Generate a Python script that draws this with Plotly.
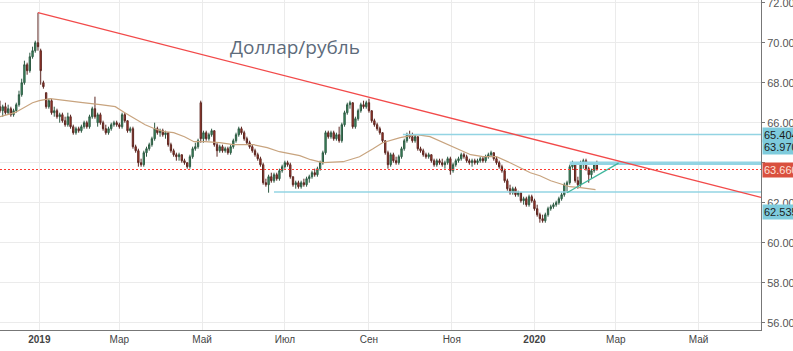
import pandas as pd
import plotly.graph_objects as go

# ---------------- data ----------------
opens = [66.8, 66.6, 66.8, 66.5, 66.7, 66.4, 66.6, 66.9, 67.4, 68.0,
         68.9, 68.6, 69.3, 69.6, 70.0, 69.6, 68.0, 67.5, 66.8, 67.1,
         66.5, 66.6, 66.3, 66.4, 66.1, 65.9, 66.3, 65.8, 65.5, 65.7,
         65.6, 65.8, 66.0, 65.8, 66.3, 66.7, 66.0, 66.4, 66.0, 65.7,
         65.5, 65.7, 65.9, 66.0, 65.9, 65.8, 66.4, 66.1, 65.6, 65.7,
         64.8, 64.6, 64.0, 63.9, 64.5, 64.7, 64.9, 65.2, 65.7, 65.5,
         65.6, 65.4, 65.5, 64.9, 64.6, 64.4, 64.3, 64.4, 64.1, 64.0,
         63.8, 64.3, 64.7, 64.8, 67.0, 65.2, 65.5, 65.2, 65.4, 65.6,
         64.9, 64.6, 64.8, 64.6, 64.7, 64.5, 64.8, 65.1, 65.4, 65.7,
         65.5, 65.2, 65.0, 64.8, 64.6, 64.4, 64.2, 63.9, 63.0, 62.9,
         63.3, 63.1, 63.4, 63.2, 63.6, 63.8, 64.0, 63.9, 63.3, 62.9,
         63.0, 62.8, 63.0, 62.9, 63.2, 63.3, 63.5, 63.4, 63.7, 64.0,
         64.5, 65.5, 65.3, 65.5, 65.2, 65.4, 65.1, 65.9, 66.5, 66.9,
         67.0, 65.8, 66.2, 66.6, 66.9, 66.8, 67.0, 66.6, 66.1, 65.9,
         65.7, 65.5, 65.1, 64.5, 63.9, 64.4, 64.1, 64.0, 64.3, 64.7,
         65.1, 65.4, 65.3, 65.1, 65.3, 64.7, 64.6, 64.4, 64.3, 64.4,
         64.1, 63.9, 64.1, 64.0, 63.9, 64.0, 64.2, 63.6, 63.9, 64.1,
         64.2, 64.4, 64.3, 64.1, 64.0, 64.1, 64.0, 64.1, 64.2, 64.1,
         64.3, 64.4, 64.5, 64.2, 64.0, 63.8, 63.6, 63.1, 62.7, 62.5,
         62.7, 62.4, 62.5, 62.1, 62.2, 61.9, 62.3, 62.1, 61.7, 61.4,
         61.2, 61.1, 61.4, 61.7, 61.8, 61.9, 62.0, 62.2, 62.4, 62.9,
         63.0, 63.8, 64.0, 63.1, 62.9, 64.0, 64.1, 63.7, 63.4, 63.6,
         63.9]
highs = [67.1, 66.9, 67.0, 66.9, 66.8, 66.7, 67.0, 67.6, 68.2, 69.1,
         69.0, 69.5, 69.8, 70.1, 71.5, 69.7, 68.1, 67.5, 67.2, 67.2,
         66.8, 66.7, 66.5, 66.5, 66.3, 66.5, 66.4, 65.9, 65.8, 65.8,
         65.9, 66.1, 66.1, 66.4, 66.8, 67.3, 66.5, 66.5, 66.1, 65.9,
         65.8, 66.0, 66.1, 66.1, 66.0, 66.5, 66.5, 66.1, 65.8, 65.8,
         64.9, 64.7, 64.2, 64.6, 64.8, 65.0, 65.3, 66.0, 65.8, 65.7,
         65.7, 65.6, 65.5, 65.0, 64.7, 64.5, 64.5, 64.4, 64.2, 64.0,
         64.4, 64.8, 65.0, 65.2, 67.1, 65.6, 65.6, 65.5, 65.7, 65.6,
         65.0, 64.9, 64.9, 64.8, 64.8, 64.9, 65.2, 65.5, 65.8, 65.8,
         65.6, 65.3, 65.1, 64.9, 64.7, 64.5, 64.3, 64.0, 63.2, 63.4,
         63.5, 63.5, 63.5, 63.7, 63.9, 64.1, 64.1, 64.0, 63.3, 63.1,
         63.1, 63.1, 63.2, 63.3, 63.4, 63.6, 63.7, 63.8, 64.1, 64.6,
         65.6, 65.6, 65.6, 65.6, 65.5, 65.8, 66.0, 66.6, 67.0, 67.1,
         67.0, 66.3, 66.7, 67.0, 67.1, 67.1, 67.2, 66.6, 66.2, 66.0,
         65.8, 65.5, 65.1, 64.6, 64.5, 64.5, 64.3, 64.4, 64.8, 65.2,
         65.5, 65.6, 65.5, 65.4, 65.3, 64.8, 64.7, 64.5, 64.5, 64.4,
         64.2, 64.2, 64.2, 64.2, 64.1, 64.3, 64.3, 64.0, 64.2, 64.3,
         64.5, 64.5, 64.4, 64.2, 64.2, 64.2, 64.2, 64.3, 64.3, 64.4,
         64.5, 64.6, 64.5, 64.3, 64.1, 63.9, 63.7, 63.2, 62.9, 62.8,
         62.8, 62.6, 62.5, 62.3, 62.3, 62.4, 62.4, 62.2, 61.9, 61.5,
         61.4, 61.5, 61.8, 61.9, 62.0, 62.1, 62.3, 62.5, 63.0, 63.1,
         63.9, 64.1, 64.0, 63.3, 64.1, 64.2, 64.2, 63.8, 63.7, 64.0,
         64.1]
lows = [66.5, 66.3, 66.4, 66.4, 66.3, 66.3, 66.5, 66.8, 67.3, 67.9,
        68.4, 68.5, 69.2, 69.5, 69.6, 67.9, 67.7, 66.7, 66.7, 66.4,
        66.3, 66.2, 66.0, 66.0, 65.8, 65.8, 65.7, 65.4, 65.4, 65.5,
        65.5, 65.7, 65.7, 65.7, 66.2, 66.2, 65.8, 65.9, 65.6, 65.4,
        65.4, 65.6, 65.8, 65.8, 65.7, 65.7, 66.0, 65.5, 65.5, 64.7,
        64.5, 63.8, 63.8, 63.8, 64.3, 64.6, 64.8, 65.1, 65.4, 65.3,
        65.3, 65.2, 64.8, 64.5, 64.3, 64.1, 64.1, 64.0, 63.9, 63.7,
        63.7, 64.2, 64.6, 64.7, 65.0, 65.0, 65.1, 65.1, 65.3, 64.8,
        64.3, 64.5, 64.5, 64.5, 64.4, 64.4, 64.7, 65.0, 65.3, 65.4,
        65.1, 64.9, 64.7, 64.5, 64.3, 64.1, 63.8, 62.9, 62.8, 62.5,
        63.0, 63.0, 63.1, 63.1, 63.5, 63.7, 63.8, 63.2, 62.8, 62.7,
        62.7, 62.7, 62.8, 62.8, 63.0, 63.2, 63.3, 63.3, 63.6, 63.9,
        64.4, 65.2, 65.2, 65.1, 65.1, 65.0, 65.0, 65.8, 66.4, 66.7,
        65.7, 65.7, 66.1, 66.5, 66.7, 66.7, 66.5, 66.0, 65.8, 65.6,
        65.4, 65.0, 64.4, 63.7, 63.8, 64.0, 63.9, 63.9, 64.2, 64.6,
        65.0, 65.2, 65.0, 65.0, 64.6, 64.5, 64.3, 64.2, 64.2, 64.0,
        63.8, 63.8, 63.9, 63.8, 63.7, 63.9, 63.4, 63.5, 63.8, 64.0,
        64.1, 64.2, 64.0, 63.9, 63.8, 63.9, 63.9, 64.0, 64.0, 64.0,
        64.2, 64.3, 64.1, 63.9, 63.7, 63.5, 63.0, 62.6, 62.4, 62.4,
        62.3, 62.3, 62.0, 61.9, 61.8, 61.8, 62.0, 61.6, 61.3, 61.0,
        61.0, 61.0, 61.3, 61.6, 61.7, 61.8, 61.9, 62.1, 62.3, 62.5,
        62.9, 63.7, 63.0, 62.7, 62.8, 63.7, 63.6, 63.0, 63.2, 63.5,
        63.6]
closes = [66.6, 66.8, 66.5, 66.7, 66.4, 66.6, 66.9, 67.4, 68.0, 68.9,
          68.6, 69.3, 69.6, 70.0, 69.8, 68.6, 67.8, 66.8, 67.1, 66.5,
          66.6, 66.3, 66.4, 66.1, 65.9, 66.3, 65.8, 65.5, 65.7, 65.6,
          65.8, 66.0, 65.8, 66.3, 66.7, 66.3, 66.4, 66.0, 65.7, 65.5,
          65.7, 65.9, 66.0, 65.9, 65.8, 66.4, 66.1, 65.6, 65.7, 64.8,
          64.6, 64.0, 63.9, 64.5, 64.7, 64.9, 65.2, 65.7, 65.5, 65.6,
          65.4, 65.5, 64.9, 64.6, 64.4, 64.3, 64.4, 64.1, 64.0, 63.8,
          64.3, 64.7, 64.8, 65.1, 65.2, 65.5, 65.2, 65.4, 65.6, 64.9,
          64.6, 64.8, 64.6, 64.7, 64.5, 64.8, 65.1, 65.4, 65.7, 65.5,
          65.2, 65.0, 64.8, 64.6, 64.4, 64.2, 63.9, 63.0, 62.9, 63.3,
          63.1, 63.4, 63.2, 63.6, 63.8, 64.0, 63.9, 63.3, 62.9, 63.0,
          62.8, 63.0, 62.9, 63.2, 63.3, 63.5, 63.4, 63.7, 64.0, 64.5,
          65.5, 65.3, 65.5, 65.2, 65.4, 65.1, 65.9, 66.5, 66.9, 67.0,
          65.8, 66.2, 66.6, 66.9, 66.8, 67.0, 66.6, 66.1, 65.9, 65.7,
          65.5, 65.1, 64.5, 63.9, 64.4, 64.1, 64.0, 64.3, 64.7, 65.1,
          65.4, 65.3, 65.1, 65.3, 64.7, 64.6, 64.4, 64.3, 64.4, 64.1,
          63.9, 64.1, 64.0, 63.9, 64.0, 64.2, 63.6, 63.9, 64.1, 64.2,
          64.4, 64.3, 64.1, 64.0, 64.1, 64.0, 64.1, 64.2, 64.1, 64.3,
          64.4, 64.5, 64.2, 64.0, 63.8, 63.6, 63.1, 62.7, 62.5, 62.7,
          62.4, 62.5, 62.1, 62.2, 61.9, 62.3, 62.1, 61.7, 61.4, 61.2,
          61.1, 61.4, 61.7, 61.8, 61.9, 62.0, 62.2, 62.4, 62.9, 63.0,
          63.8, 64.0, 63.1, 62.9, 64.0, 64.1, 63.7, 63.4, 63.6, 63.9,
          63.66]
first_date = "2018-12-03"
candle_step = "2D"

ma_dates = ["2018-12-03", "2018-12-14", "2018-12-27", "2019-01-01", "2019-01-09",
            "2019-01-16", "2019-01-24", "2019-02-02", "2019-02-15", "2019-02-26",
            "2019-03-05", "2019-03-13", "2019-03-20", "2019-03-27", "2019-04-03",
            "2019-04-10", "2019-04-18", "2019-04-25", "2019-05-03", "2019-05-14",
            "2019-05-24", "2019-06-08", "2019-06-18", "2019-06-27", "2019-07-12",
            "2019-07-20", "2019-07-29", "2019-08-13", "2019-08-25", "2019-09-04",
            "2019-09-11", "2019-09-24", "2019-10-06", "2019-10-16", "2019-10-26",
            "2019-11-05", "2019-11-15", "2019-11-24", "2019-12-04", "2019-12-14",
            "2019-12-21", "2019-12-29", "2020-01-05", "2020-01-13", "2020-01-20",
            "2020-01-27", "2020-02-04", "2020-02-15"]
ma_values = [66.3, 66.5, 67.0, 67.1, 67.2,
             67.15, 67.1, 67.0, 66.9, 66.8,
             66.5, 66.2, 65.9, 65.7, 65.55,
             65.5, 65.3, 65.05, 65.05, 65.0,
             64.9, 64.9, 64.75, 64.55, 64.35,
             64.15, 64.0, 64.05, 64.3, 64.7,
             65.0, 65.25, 65.4, 65.3, 65.0,
             64.7, 64.4, 64.3, 64.3, 64.0,
             63.75, 63.5, 63.35, 63.1, 62.95,
             62.8, 62.75, 62.65]

x_start = "2018-12-03"
x_end = "2020-06-16"

trend_dates = ["2018-12-31", x_end]
trend_values = [71.5, 62.27]

support_dates = ["2020-01-25", "2020-03-03"]
support_values = [62.5, 63.98]

levels = [65.404, 63.970, 62.535]
level_starts = ["2019-09-26", "2020-01-27", "2019-06-23"]
level_widths = [1.5, 3.5, 1.5]
tag_shifts = [0, 16, -20]
last_price = 63.66

x_tick_dates = ["2019-01-01", "2019-03-01", "2019-05-01", "2019-07-01", "2019-09-01",
                "2019-11-01", "2020-01-01", "2020-03-01", "2020-05-01"]
x_tick_labels = ["<b>2019</b>", "Мар", "Май", "Июл", "Сен", "Ноя", "<b>2020</b>", "Мар", "Май"]
y_ticks = [56, 58, 60, 62, 64, 66, 68, 70, 72]
y_hidden_labels = [64]
y_range = [55.635, 72.135]
title_text = "Доллар/рубль"

# ---------------- figure ----------------
dates = pd.date_range(first_date, periods=len(closes), freq=candle_step)

fig = go.Figure()

fig.add_trace(go.Scatter(
    x=ma_dates, y=ma_values, mode="lines",
    line=dict(color="#c8a47f", width=1.2), hoverinfo="skip", showlegend=False))

fig.add_trace(go.Candlestick(
    x=dates, open=opens, high=highs, low=lows, close=closes,
    increasing=dict(line=dict(color="#2e5a43", width=1), fillcolor="#3f9b69"),
    decreasing=dict(line=dict(color="#5b2620", width=1), fillcolor="#b93a2b"),
    whiskerwidth=0, showlegend=False, hoverinfo="skip"))

for lv, st, w in zip(levels, level_starts, level_widths):
    fig.add_trace(go.Scatter(
        x=[st, x_end], y=[lv, lv], mode="lines",
        line=dict(color="#93d4e3", width=w), hoverinfo="skip", showlegend=False))

fig.add_trace(go.Scatter(
    x=support_dates, y=support_values, mode="lines",
    line=dict(color="#3fb69c", width=1.3), hoverinfo="skip", showlegend=False))

fig.add_trace(go.Scatter(
    x=trend_dates, y=trend_values, mode="lines",
    line=dict(color="#f24a4a", width=1.3), hoverinfo="skip", showlegend=False))

fig.add_trace(go.Scatter(
    x=[x_start, x_end], y=[last_price, last_price], mode="lines",
    line=dict(color="#ff3b30", width=1.2, dash="2px,2px"), hoverinfo="skip", showlegend=False))

annotations = [dict(
    text=title_text, x=0.388, y=0.857, xref="paper", yref="paper",
    xanchor="center", yanchor="middle",
    showarrow=False, font=dict(family="Open Sans", size=19, color="#5d6b7b"))]

for lv, sh in zip(levels, tag_shifts):
    annotations.append(dict(
        text=f"{lv:.3f}", x=1, xref="paper", y=lv, yref="y", yshift=sh,
        xanchor="left", yanchor="middle", xshift=1, showarrow=False,
        bgcolor="#7ecbdc", borderpad=1,
        font=dict(family="Liberation Sans", size=11, color="#1c1c1c")))
annotations.append(dict(
    text=f"{last_price:.3f}", x=1, xref="paper", y=last_price, yref="y",
    xanchor="left", yanchor="middle", xshift=1, showarrow=False,
    bgcolor="#d9503f", borderpad=1,
    font=dict(family="Liberation Sans", size=11, color="#ffe2da")))

fig.update_layout(
    width=793, height=351,
    margin=dict(l=0, r=32, t=0, b=21),
    paper_bgcolor="white", plot_bgcolor="white",
    annotations=annotations,
    xaxis=dict(
        type="date", range=[x_start, x_end],
        tickvals=x_tick_dates, ticktext=x_tick_labels,
        showgrid=True, gridcolor="#ebebeb", gridwidth=1,
        showline=True, linecolor="#777777", linewidth=1,
        ticks="", tickfont=dict(family="Liberation Sans", size=10, color="#444444"),
        rangeslider=dict(visible=False), fixedrange=True, automargin=False),
    yaxis=dict(
        side="right", range=y_range,
        tickvals=y_ticks,
        ticktext=["" if v in y_hidden_labels else f"{v:.3f}" for v in y_ticks],
        showgrid=True, gridcolor="#ebebeb", gridwidth=1, zeroline=False,
        showline=True, linecolor="#777777", linewidth=1,
        ticks="outside", ticklen=3, tickcolor="#777777",
        ticklabeloverflow="allow",
        tickfont=dict(family="Liberation Sans", size=11, color="#555555"),
        automargin=False),
)

fig.write_html("out.html")
